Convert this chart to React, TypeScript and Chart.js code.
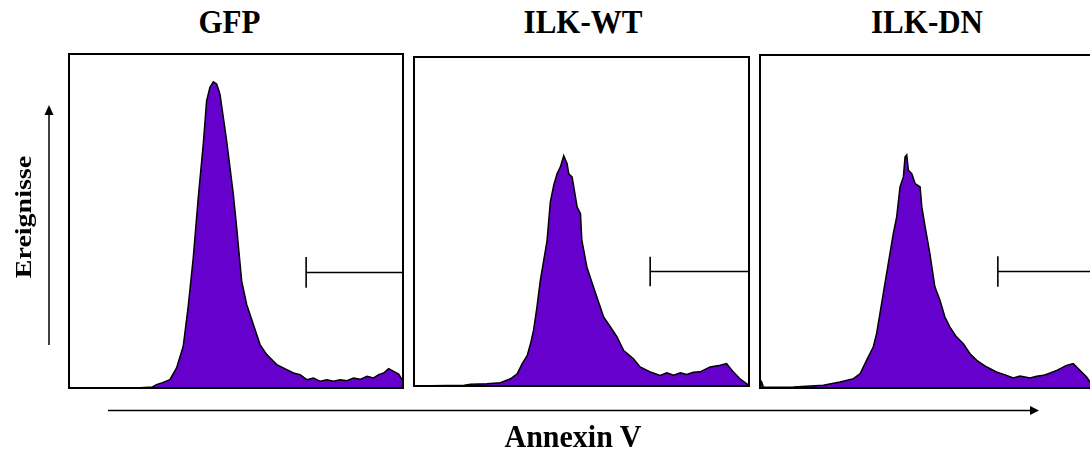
import React, { useEffect, useRef } from "react";
import { Chart, registerables } from "chart.js";

Chart.register(...registerables);

// ---- data (channel position in % of scale, event count in % of panel height) ----
const panelTitles = ["GFP", "ILK-WT", "ILK-DN"];

const gfpX = [0, 20, 25, 26.2, 28, 30.2, 32.2, 34.2, 35.7, 37.2, 38.7, 40.2, 41.2, 42.2, 43.2, 44.2, 45.2, 46.2, 47.2, 48.2, 49.2, 50.2, 51.7, 53.2, 55.2, 57.2, 59.2, 62.2, 65.2, 67.2, 69.2, 71.2, 73.2, 75.2, 77.2, 79.2, 81.2, 83.2, 85.2, 87.2, 89.2, 91.2, 92.7, 94.2, 95.7, 97.2, 98.7, 100];
const gfpY = [0, 0, 0.3, 1, 1.6, 2.5, 6, 12.5, 24.5, 39, 57, 73, 86, 90, 91.7, 91, 88, 81, 74, 66, 58, 48, 32, 25, 19, 13, 10, 7, 5.5, 4.5, 4, 2.5, 3, 2, 2.5, 2, 2.5, 2.2, 3, 2.6, 3.5, 3, 4, 4.5, 5.8, 5, 4.2, 2];

const wtX = [0, 15, 16.9, 21.8, 25.8, 28.8, 30.8, 32.3, 33.8, 34.8, 35.7, 36.7, 37.7, 38.7, 39.7, 40.7, 41.7, 42.7, 43.7, 44.7, 45.7, 46.2, 47.2, 47.7, 48.7, 49.7, 50.1, 51.6, 53.6, 55.6, 56.6, 58.6, 60.6, 62.6, 65.5, 67.5, 70.5, 73.5, 75.5, 77.5, 79.5, 81.4, 83.4, 85.4, 88.4, 91.4, 93.3, 95.3, 97.3, 100];
const wtY = [0, 0.2, 0.5, 0.7, 1, 2.2, 3.7, 6.8, 9.3, 12.9, 17, 24, 32, 38, 44, 56, 61, 64.5, 66.6, 70, 67.6, 64.5, 63.5, 60.5, 54.4, 52.4, 44.3, 36.2, 30, 24, 21, 18, 14.9, 10.8, 8.3, 5.8, 4.3, 3.2, 4, 3.3, 4, 3.5, 4.2, 4.3, 5.8, 6.3, 6.8, 4.3, 2.2, 0.2];

const dnX = [0, 0.5, 1, 5, 10, 18.9, 23.9, 27.9, 29.9, 31.8, 33.8, 34.8, 35.8, 36.8, 37.8, 38.8, 39.8, 40.8, 41.8, 42.8, 43.3, 43.8, 44.3, 45.3, 46.3, 47.8, 48.3, 49.3, 50.7, 52.2, 53.7, 55.2, 56.7, 58.7, 60.7, 62.7, 64.7, 67.7, 70.6, 73.6, 75.6, 77.6, 80.6, 82.6, 84.6, 86.6, 88.6, 91.5, 93.5, 95.5, 97.5, 98.5, 100];
const dnY = [0.3, 1.8, 0.3, 0.2, 0.3, 0.8, 1.8, 2.8, 4.3, 8.3, 12.3, 16.3, 22.3, 28.4, 34.4, 40.4, 46.4, 51.4, 60.4, 63.4, 69.4, 70, 65.4, 64.4, 61.4, 60.4, 54.4, 48.4, 40.4, 30.4, 26.4, 21.3, 18.3, 15.3, 13.3, 10.3, 8.3, 6.3, 4.8, 3.8, 3, 3.6, 3, 3.5, 3.8, 4.5, 5.3, 6.8, 7.3, 5.3, 3.3, 1.8, 0.5];

const histX = [gfpX, wtX, dnX];
const histY = [gfpY, wtY, dnY];

// marker gate (start channel, level, half tick height), ends at 100
const gateStart = [71, 70.5, 71];
const gateEnd = [100, 100, 100];
const gateLevel = [34.6, 34.8, 35];
const gateHalf = [4.6, 4.5, 4.6];

// ---- layout (plot areas in page pixels) ----
const PAD = 4;
const areas = [
  { left: 69, top: 54, width: 334, height: 334 },
  { left: 414, top: 57, width: 335, height: 329 },
  { left: 760, top: 55, width: 335, height: 333 },
];
const titleCenters = [229.5, 583, 927];

const FILL = "#6600cc";
const SERIF = "'Liberation Serif', 'Times New Roman', serif";

const framePlugin = {
  id: "frame",
  afterDatasetsDraw(chart: any) {
    const { ctx, chartArea } = chart;
    ctx.save();
    ctx.strokeStyle = "#000";
    ctx.lineWidth = 2;
    ctx.strokeRect(chartArea.left, chartArea.top, chartArea.right - chartArea.left, chartArea.bottom - chartArea.top);
    ctx.restore();
  },
};

function Panel({ idx }: { idx: number }) {
  const ref = useRef<HTMLCanvasElement | null>(null);
  const a = areas[idx];
  const w = a.width + PAD * 2;
  const h = a.height + PAD * 2;
  useEffect(() => {
    if (!ref.current) return;
    const xs = histX[idx];
    const ys = histY[idx];
    const lvl = gateLevel[idx];
    const hh = gateHalf[idx];
    const gs = gateStart[idx];
    const ge = gateEnd[idx];
    const lineStyle = {
      borderColor: "#000",
      borderWidth: 1.6,
      pointRadius: 0,
      fill: false,
      tension: 0,
      clip: 6,
    };
    const chart = new Chart(ref.current, {
      type: "line",
      data: {
        datasets: [
          {
            data: xs.map((x, i) => ({ x, y: ys[i] })),
            fill: "origin",
            backgroundColor: FILL,
            borderColor: "#000",
            borderWidth: 1.5,
            pointRadius: 0,
            tension: 0,
          } as any,
          { ...lineStyle, data: [{ x: gs, y: lvl }, { x: ge, y: lvl }] } as any,
          { ...lineStyle, data: [{ x: gs, y: lvl - hh }, { x: gs, y: lvl + hh }] } as any,
          { ...lineStyle, data: [{ x: ge, y: lvl - hh }, { x: ge, y: lvl + hh }] } as any,
        ],
      },
      options: {
        animation: false,
        responsive: false,
        devicePixelRatio: 1,
        layout: { padding: PAD },
        scales: {
          x: { type: "linear", min: 0, max: 100, display: false },
          y: { type: "linear", min: 0, max: 100, display: false },
        },
        plugins: { legend: { display: false }, tooltip: { enabled: false } },
      },
      plugins: [framePlugin],
    });
    return () => chart.destroy();
  }, [idx]);
  return (
    <canvas
      ref={ref}
      width={w}
      height={h}
      style={{ position: "absolute", left: a.left - PAD, top: a.top - PAD, width: w, height: h }}
    />
  );
}

export default function App() {
  const titleStyle = (cx: number): React.CSSProperties => ({
    position: "absolute",
    left: cx,
    top: 6,
    transform: "translateX(-50%) scaleY(1.1)",
    fontFamily: SERIF,
    fontWeight: "bold",
    fontSize: 31,
    lineHeight: "31px",
    whiteSpace: "nowrap",
    color: "#000",
  });
  return (
    <div
      style={{
        position: "absolute",
        left: 0,
        top: 0,
        width: 1090,
        height: 450,
        overflow: "hidden",
        background: "#fff",
      }}
    >
      {panelTitles.map((t, i) => (
        <div key={t} style={titleStyle(titleCenters[i])}>
          {t}
        </div>
      ))}
      {panelTitles.map((t, i) => (
        <Panel key={"p" + t} idx={i} />
      ))}
      <svg width={1090} height={450} style={{ position: "absolute", left: 0, top: 0 }}>
        <line x1={49} y1={345} x2={49} y2={112} stroke="#000" strokeWidth={1.5} />
        <polygon points="49,105 44.5,115 53.5,115" fill="#000" />
        <line x1={108} y1={410.5} x2={1032} y2={410.5} stroke="#000" strokeWidth={1.5} />
        <polygon points="1039,410.5 1030,406 1030,415" fill="#000" />
      </svg>
      <div style={{ position: "absolute", left: 24, top: 216.5, width: 0, height: 0 }}>
        <div
          style={{
            position: "absolute",
            left: 0,
            top: 0,
            transform: "translate(-50%, -50%) rotate(-90deg) scaleY(0.8)",
            fontFamily: SERIF,
            fontWeight: "bold",
            fontSize: 28,
            lineHeight: "28px",
            whiteSpace: "nowrap",
            color: "#000",
          }}
        >
          Ereignisse
        </div>
      </div>
      <div
        style={{
          position: "absolute",
          left: 573,
          top: 421,
          transform: "translateX(-50%) scaleY(1.05)",
          fontFamily: SERIF,
          fontWeight: "bold",
          fontSize: 30,
          lineHeight: "30px",
          whiteSpace: "nowrap",
          color: "#000",
        }}
      >
        Annexin V
      </div>
    </div>
  );
}
